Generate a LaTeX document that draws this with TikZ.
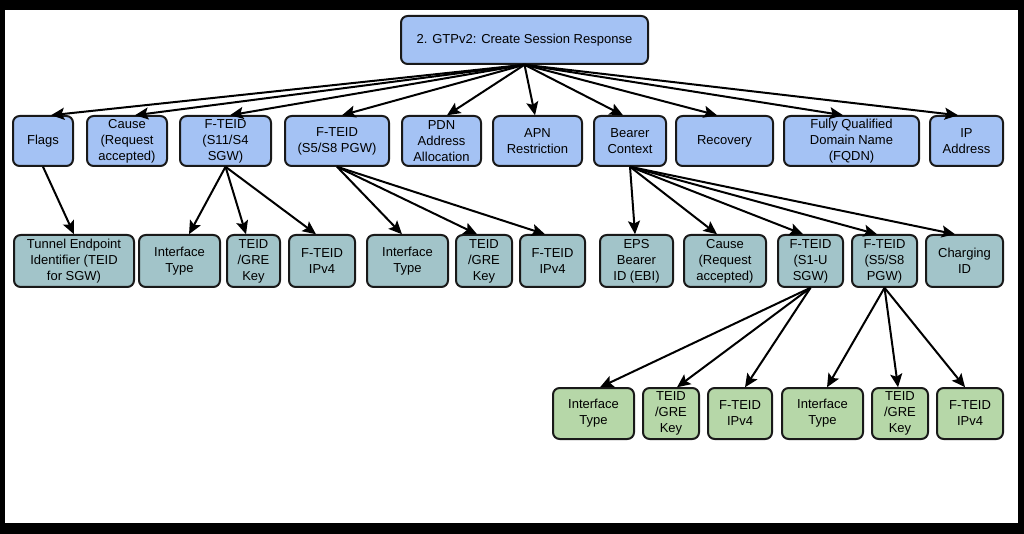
\documentclass[tikz,border=0pt]{standalone}
\usepackage{fontspec}
\setmainfont{Liberation Sans}
\usepackage{tikz}
\usetikzlibrary{arrows,arrows.meta,shapes,positioning}
\usepackage{xcolor}
\definecolor{gtpblue}{RGB}{164,194,244}
\definecolor{gtpteal}{RGB}{162,196,201}
\definecolor{gtpgreen}{RGB}{182,215,168}
\definecolor{gtpline}{RGB}{25,25,25}
\tikzstyle{arrow} = [line width=1.5pt,-{Stealth[length=10pt,width=9pt,inset=2pt]},color=black]
\tikzstyle{ie} = [draw=gtpline, line width=1.5pt, rounded corners=5pt, align=center, inner sep=0pt, font=\fontsize{13}{16}\selectfont]
\tikzstyle{lvlone} = [ie, fill=gtpblue, minimum height=50]
\tikzstyle{lvltwo} = [ie, fill=gtpteal, minimum height=52]
\tikzstyle{lvlthree} = [ie, fill=gtpgreen, minimum height=51]

\begin{document}
\begin{tikzpicture}[x=1pt, y=-1pt, scale=0.75, transform shape]
% Frame
\fill[black] (0,0) rectangle (1024,534);
\fill[white] (5,10) rectangle (1018,523);

% Message
\node[ie, fill=gtpblue, minimum width=247, minimum height=48] (root) at (524.5,40) {2. GTPv2: Create Session Response};

% Top level IEs
\node[lvlone, minimum width=60] (flags) at (43,141) {Flags};
\node[lvlone, minimum width=80] (cause) at (127,141) {Cause\\(Request\\accepted)};
\node[lvlone, minimum width=91] (fteidsgw) at (225.5,141) {F-TEID\\(S11/S4\\SGW)};
\node[lvlone, minimum width=104] (fteidpgw) at (337,141) {F-TEID\\(S5/S8 PGW)};
\node[lvlone, minimum width=79] (pdn) at (441.5,141) {PDN\\Address\\Allocation};
\node[lvlone, minimum width=89] (apn) at (537.5,141) {APN\\Restriction};
\node[lvlone, minimum width=72] (bearer) at (630,141) {Bearer\\Context};
\node[lvlone, minimum width=97] (recovery) at (724.5,141) {Recovery};
\node[lvlone, minimum width=135] (fqdn) at (851.5,141) {Fully Qualified\\Domain Name\\(FQDN)};
\node[lvlone, minimum width=73] (ipaddr) at (966.5,141) {IP\\Address};

% Second level
\node[lvltwo, minimum width=120] (teid) at (74,261) {Tunnel Endpoint\\Identifier (TEID\\for SGW)};
\node[lvltwo, minimum width=81] (sgwtype) at (179.5,261) {Interface\\Type};
\node[lvltwo, minimum width=53] (sgwkey) at (253.5,261) {TEID\\/GRE\\Key};
\node[lvltwo, minimum width=66] (sgwip) at (322,261) {F-TEID\\IPv4};
\node[lvltwo, minimum width=81] (pgwtype) at (407.5,261) {Interface\\Type};
\node[lvltwo, minimum width=56] (pgwkey) at (484,261) {TEID\\/GRE\\Key};
\node[lvltwo, minimum width=65] (pgwip) at (552.5,261) {F-TEID\\IPv4};
\node[lvltwo, minimum width=73] (ebi) at (636.5,261) {EPS\\Bearer\\ID (EBI)};
\node[lvltwo, minimum width=82] (bcause) at (725,261) {Cause\\(Request\\accepted)};
\node[lvltwo, minimum width=65] (sone) at (810.5,261) {F-TEID\\(S1-U\\SGW)};
\node[lvltwo, minimum width=65] (sfive) at (884.5,261) {F-TEID\\(S5/S8\\PGW)};
\node[lvltwo, minimum width=77] (charging) at (964.5,261) {Charging\\ID};

% Third level
\node[lvlthree, minimum width=81] (sonetype) at (593.5,413.5) {Interface\\Type};
\node[lvlthree, minimum width=56] (sonekey) at (671,413.5) {TEID\\/GRE\\Key};
\node[lvlthree, minimum width=64] (soneip) at (740,413.5) {F-TEID\\IPv4};
\node[lvlthree, minimum width=81] (sfivetype) at (822.5,413.5) {Interface\\Type};
\node[lvlthree, minimum width=56] (sfivekey) at (900,413.5) {TEID\\/GRE\\Key};
\node[lvlthree, minimum width=66] (sfiveip) at (970,413.5) {F-TEID\\IPv4};

% Message -> IEs
\draw[arrow] (root.south) -- ([xshift=8]flags.north);
\draw[arrow] (root.south) -- ([xshift=8]cause.north);
\draw[arrow] (root.south) -- ([xshift=4.5]fteidsgw.north);
\draw[arrow] (root.south) -- ([xshift=5]fteidpgw.north);
\draw[arrow] (root.south) -- ([xshift=5.5]pdn.north);
\draw[arrow] (root.south) -- ([xshift=-2.5]apn.north);
\draw[arrow] (root.south) -- ([xshift=-7]bearer.north);
\draw[arrow] (root.south) -- ([xshift=-7.5]recovery.north);
\draw[arrow] (root.south) -- ([xshift=-8.5]fqdn.north);
\draw[arrow] (root.south) -- ([xshift=-8.5]ipaddr.north);

% Grouped IEs
\draw[arrow] (flags.south) -- (teid.north);
\draw[arrow] (fteidsgw.south) -- ([xshift=9.5]sgwtype.north);
\draw[arrow] (fteidsgw.south) -- ([xshift=-7.5]sgwkey.north);
\draw[arrow] (fteidsgw.south) -- ([xshift=-6]sgwip.north);
\draw[arrow] (fteidpgw.south) -- ([xshift=-5.5]pgwtype.north);
\draw[arrow] (fteidpgw.south) -- ([xshift=-7]pgwkey.north);
\draw[arrow] (fteidpgw.south) -- ([xshift=-7.5]pgwip.north);
\draw[arrow] (bearer.south) -- ([xshift=-1.5]ebi.north);
\draw[arrow] (bearer.south) -- ([xshift=-8]bcause.north);
\draw[arrow] (bearer.south) -- ([xshift=-7.5]sone.north);
\draw[arrow] (bearer.south) -- ([xshift=-7.5]sfive.north);
\draw[arrow] (bearer.south) -- ([xshift=-9.5]charging.north);

% Bearer F-TEIDs
\draw[arrow] (sone.south) -- ([xshift=6.5]sonetype.north);
\draw[arrow] (sone.south) -- ([xshift=6]sonekey.north);
\draw[arrow] (sone.south) -- ([xshift=5]soneip.north);
\draw[arrow] (sfive.south) -- ([xshift=4.5]sfivetype.north);
\draw[arrow] (sfive.south) -- ([xshift=-2]sfivekey.north);
\draw[arrow] (sfive.south) -- ([xshift=-5]sfiveip.north);
\end{tikzpicture}
\end{document}
